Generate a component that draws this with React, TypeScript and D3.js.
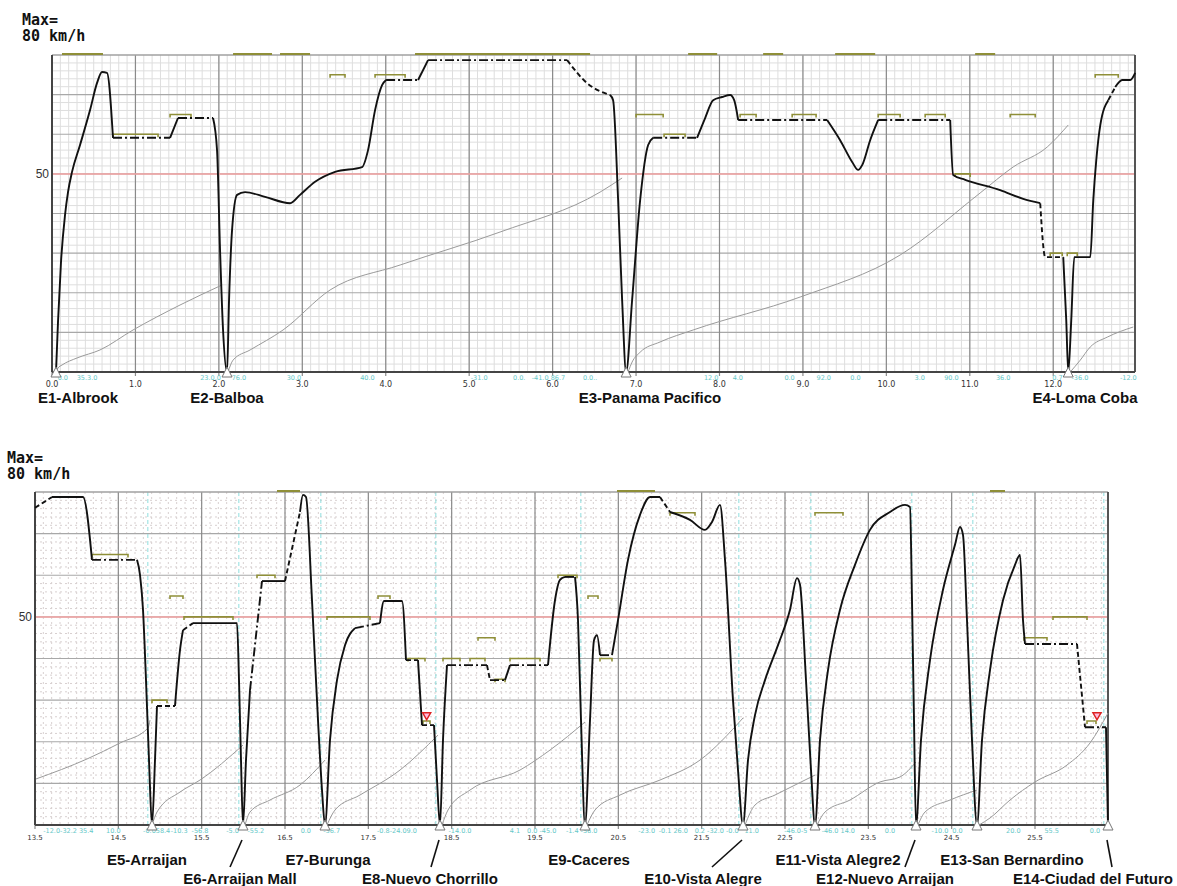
import React from "react";
import * as d3 from "d3";

// ---------------- DATA ----------------
const topStations = ["E1-Albrook", "E2-Balboa", "E3-Panama Pacifico", "E4-Loma Coba"];
const topStationKm = [0.048, 2.098, 6.881, 12.18];
const bottomStations = [
  "E5-Arraijan", "E6-Arraijan Mall", "E7-Burunga", "E8-Nuevo Chorrillo", "E9-Caceres",
  "E10-Vista Alegre", "E11-Vista Alegre2", "E12-Nuevo Arraijan", "E13-San Bernardino", "E14-Ciudad del Futuro",
];
const bottomStationKm = [14.904, 15.996, 16.98, 18.36, 20.1, 21.996, 22.86, 24.072, 24.804, 26.376];

const topKmTicks = [0, 1, 2, 3, 4, 5, 6, 7, 8, 9, 10, 11, 12];
const bottomKmTicks = [13.5, 14.5, 15.5, 16.5, 17.5, 18.5, 19.5, 20.5, 21.5, 22.5, 23.5, 24.5, 25.5];
const speedTicks = [50];
const maxSpeed = 80;

// [km, speed km/h, mode of the following segment]  P = power, C = coast/hold, B = brake
const topSpeed: [number, number, string][] = [
  [0.048, 0, "P"], [0.072, 12.6, "P"], [0.108, 27.8, "P"], [0.156, 39.6, "P"], [0.192, 45.4, "P"], [0.24, 50.5, "P"],
  [0.336, 57.3, "P"], [0.456, 66.1, "P"], [0.539, 72.9, "P"], [0.6, 75.7, "P"], [0.659, 75.5, "P"], [0.731, 59.1, "C"],
  [1.415, 59.1, "P"], [1.51, 64.1, "C"], [1.93, 64.1, "P"], [1.978, 56, "P"], [2.014, 30.8, "P"], [2.05, 10.6, "P"],
  [2.098, 0, "P"], [2.122, 18.2, "P"], [2.158, 35.8, "P"], [2.218, 44.7, "P"], [2.314, 45.4, "P"], [2.553, 44.2, "P"],
  [2.853, 42.6, "P"], [2.973, 44.7, "P"], [3.153, 48, "P"], [3.393, 50.5, "P"], [3.716, 51.7, "P"], [3.788, 56, "P"],
  [3.872, 66.1, "P"], [3.956, 72.4, "P"], [4.004, 73.7, "C"], [4.388, 73.7, "P"], [4.507, 78.7, "C"], [6.174, 78.7, "B"],
  [6.413, 72.9, "B"], [6.689, 69.9, "P"], [6.725, 68.6, "P"], [6.785, 43.4, "P"], [6.833, 18.2, "P"], [6.881, 0, "P"],
  [6.953, 18.2, "P"], [7.049, 43.4, "P"], [7.145, 57.3, "P"], [7.205, 59.1, "C"], [7.732, 59.1, "P"], [7.828, 64.1, "P"],
  [7.924, 68.6, "P"], [8.032, 69.4, "P"], [8.128, 69.9, "P"], [8.176, 68.6, "P"], [8.224, 63.6, "C"], [9.29, 63.6, "P"],
  [9.446, 58.5, "P"], [9.59, 53, "P"], [9.662, 51, "P"], [9.71, 52.2, "P"], [9.806, 58.5, "P"], [9.902, 63.6, "C"],
  [10.765, 63.6, "P"], [10.801, 49.7, "P"], [10.945, 48.5, "P"], [11.364, 45.9, "P"], [11.64, 43.7, "P"], [11.844, 42.6, "B"],
  [11.904, 29, "B"], [12.12, 29, "P"], [12.156, 13.1, "P"], [12.18, 0, "P"], [12.216, 13.1, "P"], [12.252, 29, "P"],
  [12.444, 29, "P"], [12.48, 43.4, "P"], [12.516, 53.5, "P"], [12.564, 62.3, "P"], [12.66, 68.6, "B"], [12.743, 71.9, "P"],
  [12.827, 73.7, "P"], [12.923, 73.7, "P"], [12.982, 75.5, "P"],
];

const bottomSpeed: [number, number, string][] = [
  [13.5, 76.2, "B"], [13.704, 78.8, "P"], [14.076, 78.8, "P"], [14.184, 63.7, "C"], [14.724, 63.7, "P"], [14.76, 60.1, "P"],
  [14.796, 51.7, "P"], [14.832, 34.8, "P"], [14.868, 15.6, "P"], [14.904, 0, "P"], [14.94, 15.6, "P"], [14.964, 28.6, "B"],
  [15.18, 28.6, "P"], [15.24, 42, "P"], [15.276, 46.8, "B"], [15.396, 48.5, "P"], [15.924, 48.5, "P"], [15.948, 34.8, "P"],
  [15.972, 15.6, "P"], [15.996, 0, "P"], [16.032, 15.6, "P"], [16.08, 32.4, "C"], [16.224, 58.6, "P"], [16.5, 58.6, "B"],
  [16.68, 75.2, "P"], [16.716, 79.3, "P"], [16.752, 78.8, "P"], [16.824, 54, "P"], [16.896, 25.2, "P"], [16.944, 8.4, "P"],
  [16.98, 0, "P"], [17.04, 20.4, "P"], [17.124, 34.8, "P"], [17.22, 43.2, "P"], [17.34, 47.3, "C"], [17.64, 48.5, "P"],
  [17.688, 53.8, "P"], [17.904, 53.8, "P"], [17.952, 39.6, "B"], [18.096, 39.6, "P"], [18.144, 24, "B"], [18.288, 24, "P"],
  [18.324, 10.8, "P"], [18.36, 0, "P"], [18.396, 20.4, "P"], [18.444, 38.4, "C"], [18.924, 38.4, "B"], [18.96, 34.8, "C"],
  [19.14, 34.8, "P"], [19.2, 38.4, "C"], [19.656, 38.4, "P"], [19.74, 54, "P"], [19.8, 58.9, "P"], [19.86, 59.6, "C"],
  [19.98, 59.6, "P"], [20.016, 49.2, "P"], [20.052, 25.2, "P"], [20.1, 0, "P"], [20.16, 25.2, "P"], [20.208, 44.4, "P"],
  [20.244, 45.6, "P"], [20.28, 40.8, "C"], [20.424, 40.8, "P"], [20.496, 49.2, "P"], [20.616, 63.7, "P"], [20.76, 74.5, "P"],
  [20.88, 78.8, "P"], [21.0, 78.8, "B"], [21.12, 75.2, "P"], [21.36, 73.3, "P"], [21.54, 70.9, "P"], [21.624, 72.8, "P"],
  [21.72, 76.9, "P"], [21.78, 63.7, "P"], [21.876, 30, "P"], [21.936, 13.2, "P"], [21.996, 0, "P"], [22.056, 15.6, "P"],
  [22.14, 26.4, "P"], [22.26, 34.8, "P"], [22.416, 43.2, "P"], [22.56, 51.7, "P"], [22.644, 59.3, "P"], [22.68, 57.7, "P"],
  [22.752, 34.8, "P"], [22.812, 13.2, "P"], [22.86, 0, "P"], [22.92, 20.4, "P"], [23.016, 37.2, "P"], [23.16, 51.7, "P"],
  [23.34, 62.5, "P"], [23.52, 70.9, "P"], [23.76, 75.2, "P"], [23.94, 76.9, "P"], [24.0, 76.4, "P"], [24.024, 54, "P"],
  [24.048, 25.2, "P"], [24.072, 0, "P"], [24.132, 20.4, "P"], [24.24, 39.6, "P"], [24.396, 56.5, "P"], [24.54, 67.3, "P"],
  [24.6, 71.6, "P"], [24.636, 69.7, "P"], [24.684, 49.2, "P"], [24.744, 20.4, "P"], [24.804, 0, "P"], [24.864, 20.4, "P"],
  [24.96, 37.2, "P"], [25.116, 54, "P"], [25.26, 62.5, "P"], [25.32, 64.9, "P"], [25.356, 49.2, "P"], [25.38, 43.5, "C"],
  [26.004, 43.5, "B"], [26.1, 23.5, "C"], [26.352, 23.5, "P"], [26.376, 0, "P"],
];

// running time curves, [km, seconds]
const topTime: [number, number][][] = [
  [[0.048, 0], [0.072, 5], [0.12, 8.8], [0.3, 17.7], [0.575, 27.8], [0.971, 53], [1.534, 84.5], [2.038, 109.8]],
  [[2.11, 0], [2.17, 15], [2.374, 27.8], [2.769, 53], [3.333, 103.5], [4.172, 135], [5.37, 176.6], [6.569, 227], [6.833, 244.8]],
  [[6.905, 0], [6.953, 12.6], [7.049, 25], [7.288, 37.9], [7.684, 53], [8.967, 94.6], [10.165, 147.6], [11.124, 225.9], [11.52, 258.7], [11.928, 283.9], [12.18, 311.7]],
  [[12.204, 0], [12.324, 15], [12.443, 31.5], [12.647, 44], [12.959, 56.8]],
];
const bottomTime: [number, number][][] = [
  [[13.512, 55.3], [14.124, 79.3], [14.52, 98.5], [14.856, 116.5], [14.88, 126]],
  [[14.904, 0], [14.964, 15.6], [15.24, 39.6], [15.48, 54], [15.996, 96]],
  [[16.02, 0], [16.08, 15.6], [16.32, 30], [16.68, 48], [16.98, 78]],
  [[17.004, 0], [17.1, 18], [17.4, 36], [17.88, 66], [18.336, 108]],
  [[18.384, 0], [18.456, 18], [18.72, 42], [19.32, 66], [19.68, 90], [20.1, 123.7]],
  [[20.124, 0], [20.22, 18], [20.52, 36], [21.0, 54], [21.48, 78], [21.996, 128.5]],
  [[22.02, 0], [22.14, 24], [22.38, 36], [22.86, 60]],
  [[22.884, 0], [22.98, 15.6], [23.28, 30], [23.64, 51.7], [23.88, 57.7], [24.072, 75.7]],
  [[24.096, 0], [24.18, 15.6], [24.48, 30], [24.804, 42]],
  [[24.828, 0], [24.96, 8.4], [25.2, 30], [25.5, 51.7], [25.884, 72], [26.16, 98.5], [26.376, 134.5]],
];

// speed restriction brackets [kmStart, kmEnd, km/h]
const topLimits: [number, number, number][] = [
  [0.731, 1.271, 60], [1.415, 1.666, 65], [3.333, 3.512, 75], [3.872, 4.232, 75], [7.0, 7.325, 65], [7.336, 7.588, 60],
  [8.247, 8.439, 65], [8.871, 9.158, 65], [9.902, 10.165, 65], [10.465, 10.705, 65], [10.825, 11.005, 50],
  [11.484, 11.784, 65], [11.964, 12.108, 30], [12.168, 12.288, 30], [12.503, 12.779, 75],
];
const topMaxLimits: [number, number][] = [
  [0.12, 0.611], [2.17, 2.637], [2.733, 3.093], [4.351, 6.449], [7.624, 7.972], [8.523, 8.763], [9.386, 9.866], [11.064, 11.304],
];
const bottomLimits: [number, number, number][] = [
  [14.184, 14.616, 65], [14.904, 15.084, 30], [15.12, 15.276, 55], [15.288, 15.876, 50], [16.164, 16.38, 60],
  [17.004, 17.52, 50], [17.616, 17.76, 55], [17.976, 18.18, 40], [18.156, 18.24, 25], [18.396, 18.6, 40],
  [18.72, 18.9, 40], [18.816, 19.02, 45], [19.02, 19.14, 35], [19.2, 19.56, 40], [19.776, 20.004, 60],
  [20.136, 20.256, 55], [20.28, 20.424, 40], [21.12, 21.42, 75], [22.86, 23.196, 75], [25.368, 25.644, 45],
  [25.716, 26.124, 50], [26.124, 26.232, 25],
];
const bottomMaxLimits: [number, number][] = [[16.404, 16.68], [20.484, 20.94], [24.96, 25.14]];
const bottomSignals: [number, number][] = [[18.2, 26], [26.244, 26]];

// gradient / curve annotations along the axis [km, text]
const topNotes: [number, string][] = [
  [0.13, "0.0"], [0.42, "35.3.0"], [1.9, "23.0.0"], [2.24, "76.0"], [2.9, "30.0"], [3.78, "40.0"], [5.12, "-31.0"],
  [5.6, "0.0."], [5.95, "-41.0 86.7"], [6.45, "0.0.."], [7.9, "12.0"], [8.22, "4.0"], [8.84, "0.0"], [9.25, "92.0"],
  [9.63, "0.0"], [10.4, "3.0"], [10.78, "90.0"], [11.4, "36.0"], [12.05, "0.7"], [12.32, "-36.0"], [12.9, "-12.0"],
];
const bottomNotes: [number, string][] = [
  [13.9, "-12.0-32.2 35.4"], [14.44, "10.0"], [14.96, "-0.058.4"], [15.23, "-10.3"], [15.48, "-56.8"], [15.87, "-5.0"],
  [16.15, "-55.2"], [16.75, "0.0"], [17.06, "-36.7"], [17.68, "-0.8"], [17.92, "-24.09.0"], [18.6, "-14.0.0"],
  [19.26, "4.1"], [19.58, "0.0 -45.0"], [20.06, "-1.4 -56.0"], [20.84, "-23.0"], [21.16, "-0.1 26.0"],
  [21.68, "0.2 -32.0 -0.0"], [22.1, "11.0"], [22.63, "-46.0-5"], [23.14, "-46.0 14.0"], [23.76, "0.0"],
  [24.36, "-10.0"], [24.57, "0.0"], [25.24, "20.0"], [25.7, "55.5"], [26.22, "0.0"],
];

// ---------------- LAYOUT ----------------
const TOP = { x0: 52, x1: 1135, y0: 55, y1: 372, km0: 0, km1: 12.98, maxX: 22, maxY: 25, labelX: 49 };
const BOT = { x0: 35, x1: 1108, y0: 492, y1: 825, km0: 13.5, km1: 26.376, maxX: 7, maxY: 463, labelX: 32 };
const topLabelLayout = [
  { cx: 78, y: 403 }, { cx: 227, y: 403 }, { cx: 650, y: 403 }, { cx: 1085, y: 403 },
];
const bottomLabelLayout = [
  { cx: 147, y: 865, lead: 0 }, { cx: 240, y: 884, lead: -12 }, { cx: 328, y: 865, lead: 0 },
  { cx: 430, y: 884, lead: -8 }, { cx: 589, y: 865, lead: 0 }, { cx: 703, y: 884, lead: -30 },
  { cx: 838, y: 865, lead: 0 }, { cx: 885, y: 884, lead: -10 }, { cx: 1012, y: 865, lead: 0 },
  { cx: 1093, y: 884, lead: 5 },
];

const dashFor: Record<string, string | undefined> = { P: undefined, C: "9,3,2,3", B: "5,3" };
const OLIVE = "#8f8f38";

function runs(pts: [number, number, string][]) {
  const out: { mode: string; pts: [number, number][] }[] = [];
  for (let i = 0; i < pts.length - 1; i++) {
    const m = pts[i][2];
    const last = out[out.length - 1];
    if (last && last.mode === m) last.pts.push([pts[i + 1][0], pts[i + 1][1]]);
    else out.push({ mode: m, pts: [[pts[i][0], pts[i][1]], [pts[i + 1][0], pts[i + 1][1]]] });
  }
  return out;
}

function Panel(props: any) {
  const { cfg, majors, speed, time, limits, maxLimits, stationKm, notes, signals, dotted, kmFont, tickFmt } = props;
  const x = d3.scaleLinear().domain([cfg.km0, cfg.km1]).range([cfg.x0, cfg.x1]);
  const y = d3.scaleLinear().domain([0, maxSpeed]).range([cfg.y1, cfg.y0]);
  const yt = d3.scaleLinear().domain([0, 400]).range([cfg.y1, cfg.y0]);
  const line = d3.line<[number, number]>().x((d) => x(d[0])).y((d) => y(d[1])).curve(d3.curveMonotoneX);
  const tline = d3.line<[number, number]>().x((d) => x(d[0])).y((d) => yt(d[1])).curve(d3.curveMonotoneX);
  const minorV = d3.range(Math.ceil(cfg.km0 * 10), Math.floor(cfg.km1 * 10) + 1).map((i) => i / 10);
  const minorH = d3.range(2, maxSpeed, 2).filter((v) => v % 10 !== 0);
  const majorH = d3.range(10, maxSpeed, 10);
  const minorColor = dotted ? "#d8d0d0" : "#dedede";
  const minorDash = dotted ? "2,3" : undefined;
  return (
    <g>
      <rect x={cfg.x0} y={cfg.y0} width={cfg.x1 - cfg.x0} height={cfg.y1 - cfg.y0} fill="#fff" />
      {minorV.map((k) => (
        <line key={"mv" + k} x1={x(k)} x2={x(k)} y1={cfg.y0} y2={cfg.y1} stroke={minorColor} strokeWidth={1} strokeDasharray={minorDash} />
      ))}
      {minorH.map((v) => (
        <line key={"mh" + v} x1={cfg.x0} x2={cfg.x1} y1={y(v)} y2={y(v)} stroke={minorColor} strokeWidth={1} strokeDasharray={minorDash} />
      ))}
      {majorH.map((v) => (
        <line key={"Mh" + v} x1={cfg.x0} x2={cfg.x1} y1={y(v)} y2={y(v)} stroke="#a8a8a8" strokeWidth={1.2} />
      ))}
      {majors.map((k: number) => (
        <line key={"Mv" + k} x1={x(k)} x2={x(k)} y1={cfg.y0} y2={cfg.y1 + 4} stroke="#8a8a8a" strokeWidth={1.2} />
      ))}
      {dotted &&
        stationKm.map((k: number) => (
          <line key={"cy" + k} x1={x(k - 0.05)} x2={x(k - 0.05)} y1={cfg.y0} y2={cfg.y1} stroke="#8fdede" strokeWidth={1} strokeDasharray="4,3" />
        ))}
      {speedTicks.map((v) => (
        <g key={"st" + v}>
          <line x1={cfg.x0} x2={cfg.x1} y1={y(v)} y2={y(v)} stroke="#f5a3a3" strokeWidth={1.5} />
          <text x={cfg.labelX} y={y(v) + 4} textAnchor="end" fontSize={12} fontFamily="Liberation Sans, Arial" fill="#333">
            {v}
          </text>
        </g>
      ))}
      {/* frame */}
      <line x1={cfg.x0} x2={cfg.x1} y1={cfg.y0} y2={cfg.y0} stroke="#a0a0a0" strokeWidth={1.5} />
      <line x1={cfg.x1} x2={cfg.x1} y1={cfg.y0} y2={cfg.y1} stroke="#555" strokeWidth={2} />
      <line x1={cfg.x0} x2={cfg.x0} y1={cfg.y0} y2={cfg.y1} stroke="#444" strokeWidth={2} />
      <line x1={cfg.x0} x2={cfg.x1} y1={cfg.y1} y2={cfg.y1} stroke="#444" strokeWidth={2.2} />
      {/* max speed limits on the top border */}
      {maxLimits.map((m: [number, number], i: number) => (
        <line key={"ml" + i} x1={x(m[0])} x2={x(m[1])} y1={y(maxSpeed) - 1} y2={y(maxSpeed) - 1} stroke={OLIVE} strokeWidth={2} />
      ))}
      {/* running time */}
      {time.map((t: [number, number][], i: number) => (
        <path key={"t" + i} d={tline(t) || ""} fill="none" stroke="#9a9a9a" strokeWidth={1} />
      ))}
      {/* speed restriction brackets */}
      {limits.map((l: [number, number, number], i: number) => {
        const yy = y(l[2]);
        return (
          <path
            key={"l" + i}
            d={`M${x(l[0])},${yy + 3}V${yy}H${x(l[1])}V${yy + 3}`}
            fill="none"
            stroke={OLIVE}
            strokeWidth={1.6}
          />
        );
      })}
      {/* speed curve */}
      {runs(speed).map((r, i) => (
        <path key={"s" + i} d={line(r.pts) || ""} fill="none" stroke="#111" strokeWidth={1.9} strokeDasharray={dashFor[r.mode]} strokeLinejoin="round" />
      ))}
      {signals.map((s: [number, number], i: number) => {
        const sx = x(s[0]);
        const sy = y(s[1]);
        return <path key={"sg" + i} d={`M${sx - 4},${sy - 4}H${sx + 4}L${sx},${sy + 3}Z`} fill="#fbd" stroke="#d22" strokeWidth={1.5} />;
      })}
      {/* axis labels */}
      {notes.map((n: [number, string], i: number) => (
        <text key={"n" + i} x={x(n[0])} y={cfg.y1 + 7.5} textAnchor="middle" fontSize={6.5} fontFamily="DejaVu Sans" fill="#66c8c8">
          {n[1]}
        </text>
      ))}
      {majors.map((k: number) => (
        <text key={"kt" + k} x={x(k)} y={cfg.y1 + 14.5} textAnchor="middle" fontSize={kmFont} fontFamily="DejaVu Sans" fill="#333">
          {tickFmt(k)}
        </text>
      ))}
      {stationKm.map((k: number) => {
        const sx = x(k);
        return <path key={"tri" + k} d={`M${sx},${cfg.y1 - 5}L${sx - 5},${cfg.y1 + 5}H${sx + 5}Z`} fill="#fff" stroke="#777" strokeWidth={1} />;
      })}
      <text x={cfg.maxX} y={cfg.maxY} fontSize={15} fontWeight="bold" fontFamily="DejaVu Sans Mono" fill="#111">
        Max=
      </text>
      <text x={cfg.maxX} y={cfg.maxY + 16} fontSize={15} fontWeight="bold" fontFamily="DejaVu Sans Mono" fill="#111">
        {maxSpeed} km/h
      </text>
    </g>
  );
}

export default function App() {
  const xb = d3.scaleLinear().domain([BOT.km0, BOT.km1]).range([BOT.x0, BOT.x1]);
  const fmt = d3.format(".1f");
  return (
    <div style={{ position: "absolute", left: 0, top: 0 }}>
      <svg width={1177} height={886} style={{ display: "block", background: "#fff" }}>
        <Panel
          cfg={TOP}
          majors={topKmTicks}
          speed={topSpeed}
          time={topTime}
          limits={topLimits}
          maxLimits={topMaxLimits}
          stationKm={topStationKm}
          notes={topNotes}
          signals={[]}
          dotted={false}
          kmFont={8}
          tickFmt={fmt}
        />
        <Panel
          cfg={BOT}
          majors={bottomKmTicks}
          speed={bottomSpeed}
          time={bottomTime}
          limits={bottomLimits}
          maxLimits={bottomMaxLimits}
          stationKm={bottomStationKm}
          notes={bottomNotes}
          signals={bottomSignals}
          dotted={true}
          kmFont={7}
          tickFmt={fmt}
        />
        {topStations.map((s, i) => (
          <text key={s} x={topLabelLayout[i].cx} y={topLabelLayout[i].y} textAnchor="middle" fontSize={15} fontWeight="bold" fontFamily="Liberation Sans, Arial" fill="#111">
            {s}
          </text>
        ))}
        {bottomStations.map((s, i) => {
          const L = bottomLabelLayout[i];
          const sx = xb(bottomStationKm[i]);
          return (
            <g key={s}>
              {L.y > 870 && <line x1={sx - 1} y1={840} x2={sx - 1 + L.lead} y2={867} stroke="#111" strokeWidth={1.6} />}
              <text x={L.cx} y={L.y} textAnchor="middle" fontSize={15} fontWeight="bold" fontFamily="Liberation Sans, Arial" fill="#111">
                {s}
              </text>
            </g>
          );
        })}
      </svg>
    </div>
  );
}
